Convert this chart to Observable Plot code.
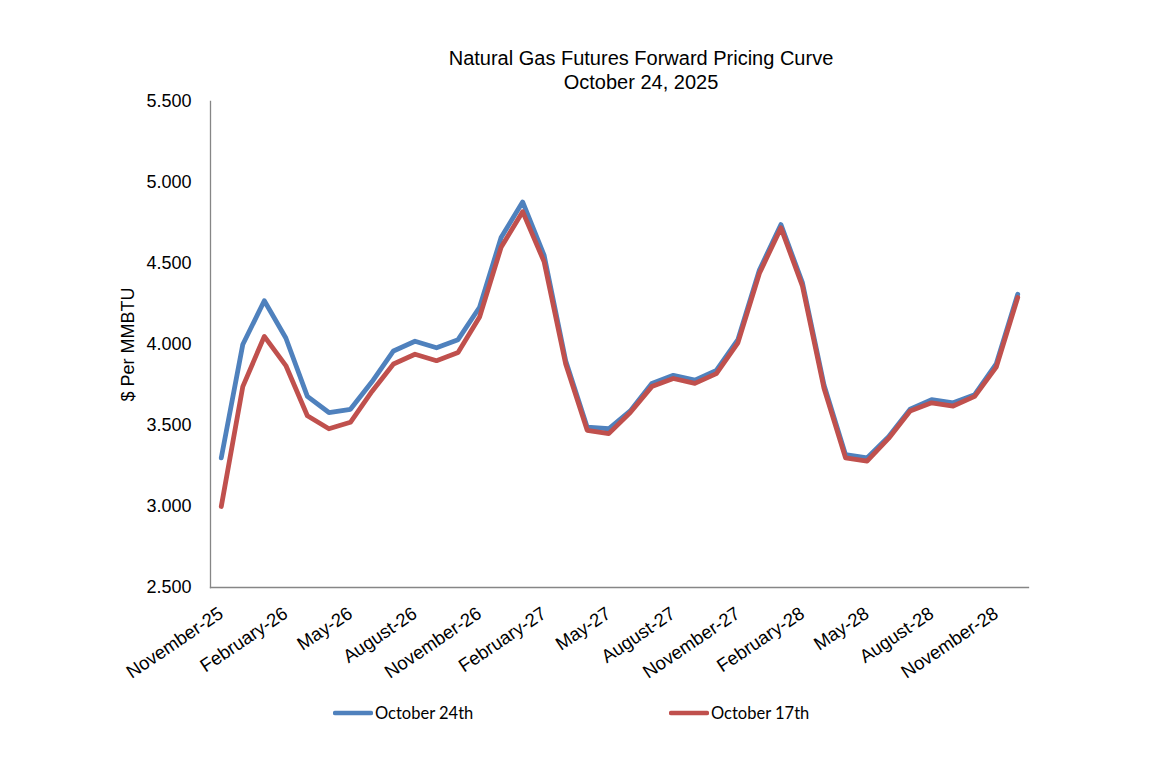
<!DOCTYPE html>
<html><head><meta charset="utf-8">
<script src="https://cdn.jsdelivr.net/npm/d3@7"></script>
<script src="https://cdn.jsdelivr.net/npm/@observablehq/plot@0.6"></script>
<style>
body{margin:0;background:#fff;}
#wrap{position:relative;width:1165px;height:770px;overflow:hidden;}
#title{position:absolute;left:341px;width:600px;top:46px;text-align:center;font-family:"Liberation Sans",Arial,sans-serif;font-size:20px;line-height:24px;color:#000;}
#chart{position:absolute;left:0;top:0;}
.leg{position:absolute;top:701px;height:24px;display:flex;align-items:center;font-family:Lato,"Open Sans",sans-serif;font-size:16.5px;color:#000;white-space:nowrap;}
.leg svg{display:block;margin-right:2px;}
</style></head><body>
<div id="wrap">
<div id="chart"></div>
<div id="title">Natural Gas Futures Forward Pricing Curve<br>October 24, 2025</div>
<div id="legend"></div>
</div>
<script>
const months = ["November-25","December-25","January-26","February-26","March-26","April-26","May-26","June-26","July-26","August-26","September-26","October-26","November-26","December-26","January-27","February-27","March-27","April-27","May-27","June-27","July-27","August-27","September-27","October-27","November-27","December-27","January-28","February-28","March-28","April-28","May-28","June-28","July-28","August-28","September-28","October-28","November-28","December-28"];
const tickLabels = ["November-25","February-26","May-26","August-26","November-26","February-27","May-27","August-27","November-27","February-28","May-28","August-28","November-28"];
const oct24 = [3.30,4.00,4.27,4.04,3.68,3.58,3.60,3.77,3.96,4.02,3.98,4.03,4.23,4.66,4.88,4.55,3.90,3.49,3.48,3.59,3.76,3.81,3.78,3.84,4.03,4.46,4.74,4.38,3.75,3.32,3.30,3.43,3.60,3.66,3.64,3.69,3.88,4.31];
const oct17 = [3.00,3.74,4.05,3.87,3.56,3.48,3.52,3.71,3.88,3.94,3.90,3.95,4.17,4.60,4.82,4.51,3.88,3.47,3.45,3.58,3.74,3.79,3.76,3.82,4.01,4.44,4.72,4.36,3.73,3.30,3.28,3.42,3.59,3.64,3.62,3.68,3.86,4.29];
const seriesNames = ["October 24th","October 17th"];
const seriesColors = ["#4F81BD","#C0504D"];
const yTicks = [2.5,3.0,3.5,4.0,4.5,5.0,5.5];
const yLabel = "$ Per MMBTU";

const data = [];
[oct24, oct17].forEach((vals, s) => vals.forEach((v, i) => data.push({month: months[i], series: seriesNames[s], price: v})));

const chart = Plot.plot({
  width: 1165, height: 700,
  marginLeft: 210, marginRight: 137, marginTop: 101, marginBottom: 113,
  style: {fontFamily: '"Liberation Sans",Arial,sans-serif', fontSize: "18px", color: "#000", background: "transparent", overflow: "visible"},
  x: {type: "point", domain: months, padding: 0.5, round: false, label: null},
  y: {domain: [2.5, 5.5], label: null},
  color: {domain: seriesNames, range: seriesColors},
  marks: [
    Plot.frame({anchor: "left", stroke: "#868686", strokeWidth: 1.3}),
    Plot.frame({anchor: "bottom", stroke: "#868686", strokeWidth: 1.3}),
    Plot.axisY({ticks: yTicks, tickSize: 0, tickPadding: 19, tickFormat: d => d.toFixed(3), fontSize: 18, label: null}),
    Plot.axisX({ticks: tickLabels, tickSize: 0, tickPadding: 24, tickRotate: -34, fontSize: 18.5, label: null}),
    Plot.line(data, {x: "month", y: "price", stroke: "series", z: "series", strokeWidth: 4.8, strokeLinejoin: "round", strokeLinecap: "round"}),
    Plot.text([yLabel], {text: d => d, frameAnchor: "left", dx: -82, rotate: -90, fontSize: 18, textAnchor: "middle", lineAnchor: "middle"})
  ]
});
document.getElementById("chart").appendChild(chart);

const legPos = [333, 669];
const legend = document.getElementById("legend");
seriesNames.forEach((name, i) => {
  const d = document.createElement("div");
  d.className = "leg";
  d.style.left = legPos[i] + "px";
  d.innerHTML = `<svg width="40" height="8"><line x1="2" y1="4" x2="38" y2="4" stroke="${seriesColors[i]}" stroke-width="4.5" stroke-linecap="round"/></svg><span>${name}</span>`;
  legend.appendChild(d);
});
</script>
</body></html>
